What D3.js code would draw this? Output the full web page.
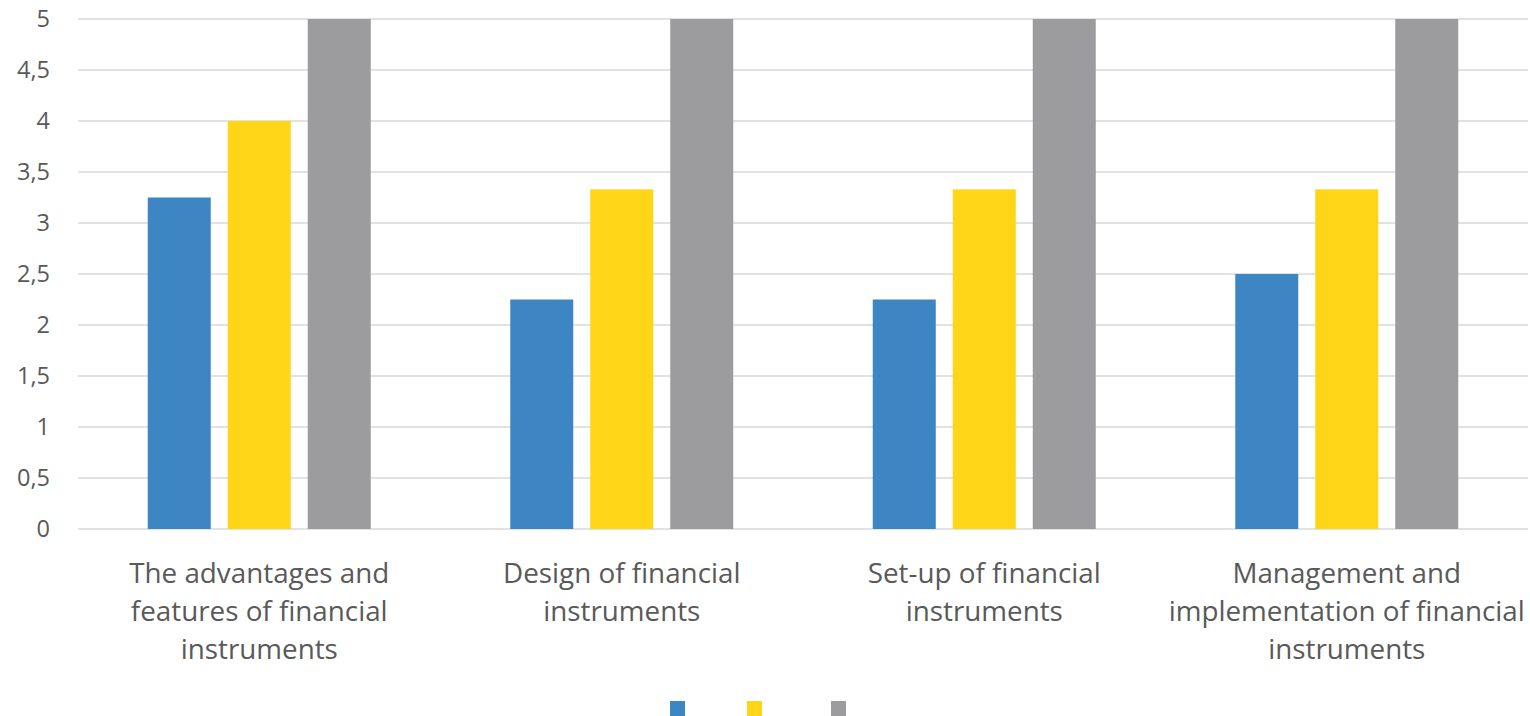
<!DOCTYPE html>
<html><head><meta charset="utf-8">
<script src="https://cdn.jsdelivr.net/npm/d3@7"></script>
<style>body{margin:0;background:#fff}svg{display:block}</style>
</head><body>
<svg id="c" width="1530" height="716"></svg>
<script>
const categories = [
  ["The advantages and","features of financial","instruments"],
  ["Design of financial","instruments"],
  ["Set-up of financial","instruments"],
  ["Management and","implementation of financial","instruments"]
];
const seriesNames = ["Series 1","Series 2","Series 3"];
const series1 = [3.25, 2.25, 2.25, 2.5];
const series2 = [4, 3.33, 3.33, 3.33];
const series3 = [5, 5, 5, 5];
const colors = ["#3d85c3", "#fed517", "#9c9c9e"];
const yTicks = [0, 0.5, 1, 1.5, 2, 2.5, 3, 3.5, 4, 4.5, 5];

(function(){
const svg = d3.select("#c");
const mLeft = 78, mRight = 1528, mTop = 19, mBottom = 529;
const x = d3.scaleBand().domain(d3.range(categories.length)).range([mLeft, mRight]);
const y = d3.scaleLinear().domain([0, 5]).range([mBottom, mTop]);
const bw = 63, step = 80;

svg.append("g").selectAll("line").data(yTicks).join("line")
  .attr("x1", mLeft).attr("x2", mRight)
  .attr("y1", d => y(d)).attr("y2", d => y(d))
  .attr("stroke", "#d9d9d9").attr("stroke-width", 1.5);

const fmt = d => String(d).replace(".", ",");
svg.append("g").selectAll("text").data(yTicks).join("text")
  .attr("x", 50).attr("y", d => y(d)).attr("dy", "0.35em")
  .attr("text-anchor", "end").attr("fill", "#595959")
  .style("font-family", "'Open Sans', 'Liberation Sans', sans-serif").style("font-size", "23.5px")
  .text(fmt);

const all = [series1, series2, series3];
all.forEach((s, si) => {
  svg.append("g").selectAll("rect").data(s).join("rect")
    .attr("x", (d, i) => x(i) + x.bandwidth()/2 + (si - 1) * step - bw/2)
    .attr("width", bw)
    .attr("y", d => y(d)).attr("height", d => y(0) - y(d))
    .attr("fill", colors[si]);
});

const lab = svg.append("g");
categories.forEach((lines, i) => {
  const t = lab.append("text").attr("text-anchor", "middle").attr("fill", "#595959")
    .style("font-family", "'Open Sans', 'Liberation Sans', sans-serif").style("font-size", "27.8px");
  lines.forEach((l, j) => {
    t.append("tspan").attr("x", x(i) + x.bandwidth()/2).attr("y", 583 + j * 38).text(l);
  });
});

const legX = [670, 747, 831];
svg.append("g").selectAll("rect").data(seriesNames).join("rect")
  .attr("x", (d, i) => legX[i]).attr("y", 701).attr("width", 15).attr("height", 15)
  .attr("fill", (d, i) => colors[i]);
})();
</script>
</body></html>
